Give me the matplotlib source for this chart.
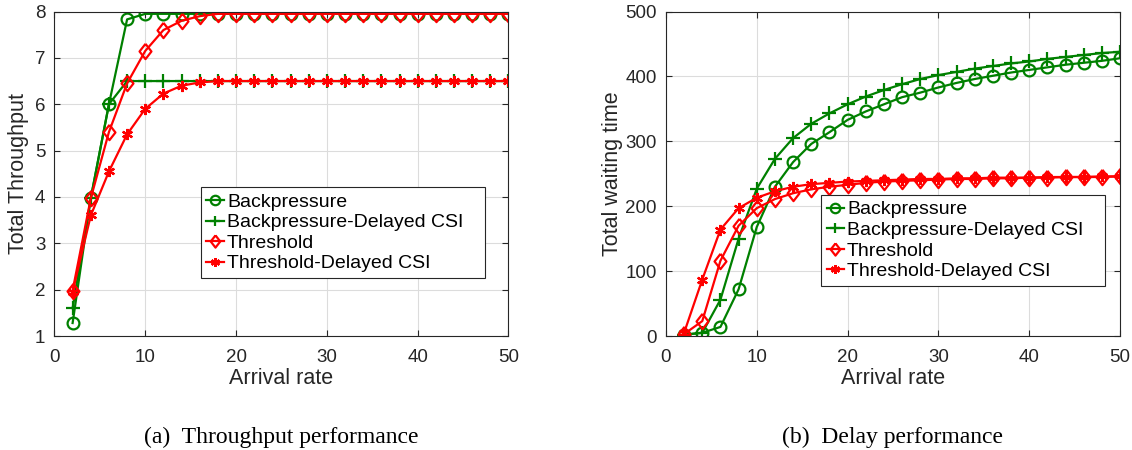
import matplotlib
matplotlib.use("Agg")
import matplotlib.pyplot as plt

plt.rcParams["font.family"] = ["Liberation Sans", "DejaVu Sans"]

arrival = list(range(2, 51, 2))

# (a) throughput
tp_bp = [1.28, 3.97, 6.0, 7.83, 7.95, 7.95, 7.95, 7.95, 7.95, 7.95, 7.95, 7.95, 7.95,
         7.95, 7.95, 7.95, 7.95, 7.95, 7.95, 7.95, 7.95, 7.95, 7.95, 7.95, 7.95]
tp_bp_delayed = [1.6, 3.97, 6.0, 6.5, 6.5, 6.5, 6.5, 6.5, 6.5, 6.5, 6.5, 6.5, 6.5,
                 6.5, 6.5, 6.5, 6.5, 6.5, 6.5, 6.5, 6.5, 6.5, 6.5, 6.5, 6.5]
tp_thr = [1.98, 3.97, 5.4, 6.45, 7.15, 7.6, 7.8, 7.9, 7.95, 7.95, 7.95, 7.95, 7.95,
          7.95, 7.95, 7.95, 7.95, 7.95, 7.95, 7.95, 7.95, 7.95, 7.95, 7.95, 7.95]
tp_thr_delayed = [1.95, 3.6, 4.55, 5.35, 5.9, 6.23, 6.4, 6.47, 6.5, 6.5, 6.5, 6.5, 6.5,
                  6.5, 6.5, 6.5, 6.5, 6.5, 6.5, 6.5, 6.5, 6.5, 6.5, 6.5, 6.5]

# (b) waiting time
wt_bp = [2, 5, 14, 72, 168, 230, 268, 296, 314, 333, 346, 357, 368,
         375, 383, 390, 396, 401, 406, 410, 414, 418, 421, 424, 428]
wt_bp_delayed = [2, 5, 56, 150, 227, 273, 305, 327, 343, 357, 369, 379, 388,
                 396, 402, 407, 412, 416, 420, 423, 427, 430, 433, 436, 438]
wt_thr = [3, 23, 116, 170, 197, 211, 220, 226, 230, 233, 236, 238, 239,
          240, 241, 242, 242, 243, 243, 244, 244, 245, 245, 245, 246]
wt_thr_delayed = [5, 87, 164, 197, 213, 223, 230, 234, 236, 238, 239, 240, 241,
                  242, 242, 243, 243, 244, 244, 244, 245, 245, 245, 246, 246]

labels = ["Backpressure", "Backpressure-Delayed CSI", "Threshold", "Threshold-Delayed CSI"]
GREEN = "#008000"
RED = "#ff0000"
# MATLAB-like diamond: a bit taller than wide
diamond = [(0, 1), (0.78, 0), (0, -1), (-0.78, 0), (0, 1)]
styles = [
    dict(color=GREEN, marker="o", mfc="none", ms=8.5),
    dict(color=GREEN, marker="+", ms=9.5),
    dict(color=RED, marker=diamond, mfc="none", ms=11),
    dict(color=RED, marker=(6, 2, 0), ms=8),
]

fig = plt.figure(figsize=(11.32, 4.5), dpi=100)
ax1 = fig.add_axes([0.0481, 0.2533, 0.4011, 0.7211])
ax2 = fig.add_axes([0.5883, 0.2533, 0.4011, 0.7211])


def style_axes(ax):
    ax.grid(True, color="#dcdcdc", linewidth=0.8)
    ax.set_axisbelow(True)
    ax.tick_params(direction="in", top=True, right=True, labelsize=13.5,
                   colors="#262626", length=4)
    ax.tick_params(axis="x", pad=9)
    ax.tick_params(axis="y", pad=6.5)
    for sp in ax.spines.values():
        sp.set_color("#262626")
        sp.set_linewidth(0.8)


for ys, st, lab in zip([tp_bp, tp_bp_delayed, tp_thr, tp_thr_delayed], styles, labels):
    ax1.plot(arrival, ys, lw=1.6, mew=1.6, label=lab, **st)
ax1.set_xlim(0, 50)
ax1.set_ylim(1, 8)
ax1.set_xticks(range(0, 51, 10))
ax1.set_yticks(range(1, 9))
ax1.set_xlabel("Arrival rate", fontsize=15.5, color="#262626", labelpad=2)
ax1.set_ylabel("Total Throughput", fontsize=15.5, color="#262626", labelpad=4)
style_axes(ax1)

for ys, st, lab in zip([wt_bp, wt_bp_delayed, wt_thr, wt_thr_delayed], styles, labels):
    ax2.plot(arrival, ys, lw=1.6, mew=1.6, label=lab, **st)
ax2.set_xlim(0, 50)
ax2.set_ylim(0, 500)
ax2.set_xticks(range(0, 51, 10))
ax2.set_yticks(range(0, 501, 100))
ax2.set_xlabel("Arrival rate", fontsize=15.5, color="#262626", labelpad=2)
ax2.set_ylabel("Total waiting time", fontsize=15.5, color="#262626", labelpad=2)
style_axes(ax2)

leg_kw = dict(fontsize=14, handlelength=0.9, handletextpad=0.15, borderpad=0.3,
              labelspacing=0.15, fancybox=False, framealpha=1, borderaxespad=0,
              markerscale=0.8, loc="upper left", mode="expand")
lg1 = ax1.legend(bbox_to_anchor=(0.322, 0.0, 0.626, 0.458), **leg_kw)
lg2 = ax2.legend(bbox_to_anchor=(0.341, 0.0, 0.626, 0.4345), **leg_kw)
for lg in (lg1, lg2):
    lg.get_frame().set_edgecolor("#262626")
    lg.get_frame().set_linewidth(0.8)

cap_font = ["Liberation Serif", "DejaVu Serif"]
fig.text(0.2487, 0.029, "(a)  Throughput performance", ha="center", va="center",
         fontsize=17, family=cap_font)
fig.text(0.7888, 0.029, "(b)  Delay performance", ha="center", va="center",
         fontsize=17, family=cap_font)

fig.savefig("out.png", dpi=100)
